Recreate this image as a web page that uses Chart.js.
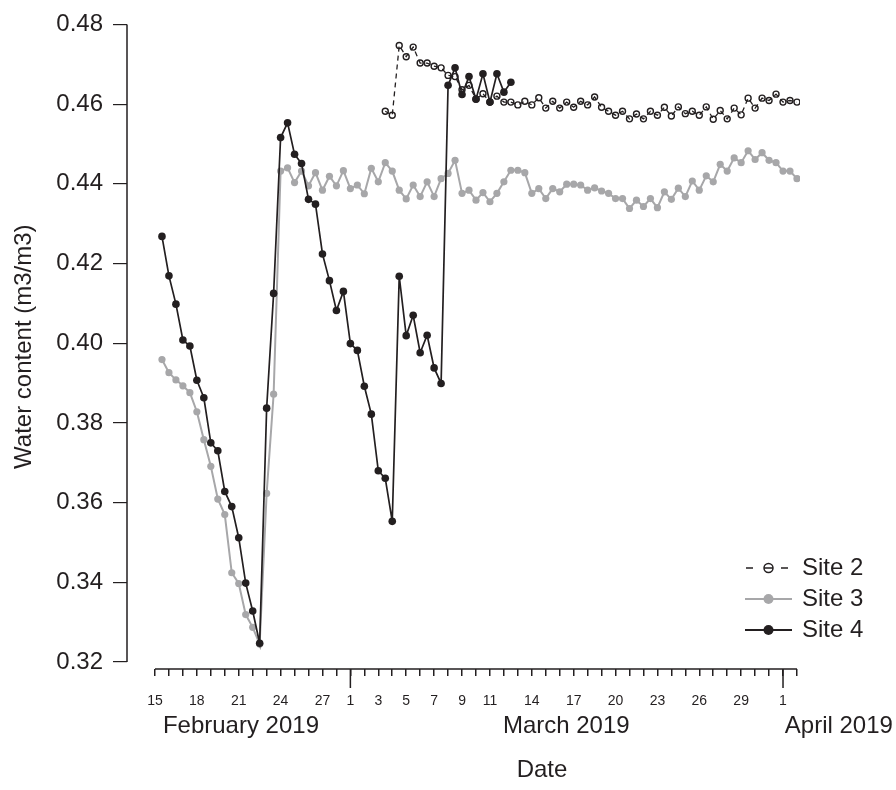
<!DOCTYPE html>
<html>
<head>
<meta charset="utf-8">
<script src="https://cdn.jsdelivr.net/npm/chart.js@4.4.1/dist/chart.umd.min.js"></script>
<style>
  html, body { margin: 0; padding: 0; background: #fff; }
</style>
</head>
<body>
<canvas id="chart" width="896" height="790"></canvas>
<script>
// day numbers counted from 1 February 2019 (Mar 1 = 29, Apr 1 = 60), one reading every 12 h
var days = [15.5, 16, 16.5, 17, 17.5, 18, 18.5, 19, 19.5, 20, 20.5, 21, 21.5, 22, 22.5, 23, 23.5,
  24, 24.5, 25, 25.5, 26, 26.5, 27, 27.5, 28, 28.5,
  29, 29.5, 30, 30.5, 31, 31.5, 32, 32.5, 33, 33.5, 34, 34.5, 35, 35.5,
  36, 36.5, 37, 37.5, 38, 38.5, 39, 39.5, 40, 40.5,
  41, 41.5, 42, 42.5, 43, 43.5, 44, 44.5, 45, 45.5,
  46, 46.5, 47, 47.5, 48, 48.5, 49, 49.5, 50, 50.5,
  51, 51.5, 52, 52.5, 53, 53.5, 54, 54.5, 55, 55.5,
  56, 56.5, 57, 57.5, 58, 58.5, 59, 59.5, 60, 60.5, 61];

var site3 = [0.3959, 0.3926, 0.3908, 0.3893, 0.3876, 0.3828, 0.3758, 0.3691, 0.3609, 0.3570,
  0.3424, 0.3397, 0.3319, 0.3287, 0.3245, 0.3623, 0.3872,
  0.4432, 0.4440, 0.4403, 0.4432, 0.4395, 0.4428, 0.4384, 0.4419, 0.4395, 0.4433,
  0.4388, 0.4397, 0.4375, 0.4439, 0.4405, 0.4453, 0.4432, 0.4384, 0.4362, 0.4397, 0.4368, 0.4405, 0.4368, 0.4413,
  0.4426, 0.4459, 0.4376, 0.4384, 0.4359, 0.4378, 0.4355, 0.4376, 0.4405, 0.4434,
  0.4434, 0.4428, 0.4376, 0.4388, 0.4363, 0.4388, 0.4380, 0.4399, 0.4399, 0.4397,
  0.4384, 0.4390, 0.4382, 0.4376, 0.4363, 0.4363, 0.4338, 0.4359, 0.4343, 0.4363,
  0.4340, 0.4380, 0.4361, 0.4389, 0.4368, 0.4407, 0.4384, 0.4420, 0.4405, 0.4449,
  0.4432, 0.4465, 0.4453, 0.4483, 0.4461, 0.4478, 0.4459, 0.4453, 0.4432, 0.4432,
  0.4413];

// site 4 starts with the first day and stops on 12 March
var site4 = [0.4268, 0.4169, 0.4098, 0.4008, 0.3993, 0.3907, 0.3863, 0.3750, 0.3730, 0.3628,
  0.3590, 0.3512, 0.3398, 0.3328, 0.3247, 0.3837, 0.4125,
  0.4516, 0.4553, 0.4474, 0.4451, 0.4361, 0.4349, 0.4224, 0.4157, 0.4082, 0.4130,
  0.3999, 0.3982, 0.3892, 0.3822, 0.3680, 0.3661, 0.3553, 0.4168, 0.4019, 0.4070, 0.3976, 0.4020, 0.3938, 0.3899,
  0.4647, 0.4691, 0.4624, 0.4669, 0.4612, 0.4676, 0.4605, 0.4676, 0.4630, 0.4655];

// site 2 starts on 3 March, 12:00
var site2From = 31.5;
var site2 = [0.4582, 0.4572, 0.4747, 0.4719, 0.4743, 0.4703, 0.4703, 0.4695, 0.4691,
  0.4672, 0.4669, 0.4636, 0.4647, 0.4613, 0.4626, 0.4605, 0.4620, 0.4605, 0.4605,
  0.4598, 0.4607, 0.4598, 0.4616, 0.4590, 0.4607, 0.4590, 0.4605, 0.4592, 0.4607,
  0.4598, 0.4618, 0.4592, 0.4582, 0.4572, 0.4582, 0.4563, 0.4575, 0.4563, 0.4582,
  0.4572, 0.4592, 0.4570, 0.4593, 0.4576, 0.4582, 0.4572, 0.4593, 0.4562, 0.4584,
  0.4563, 0.4590, 0.4573, 0.4615, 0.4590, 0.4615, 0.4609, 0.4625, 0.4605, 0.4609, 0.4605];

var yTicks = [0.32, 0.34, 0.36, 0.38, 0.40, 0.42, 0.44, 0.46, 0.48];
var yTickLabels = ['0.32', '0.34', '0.36', '0.38', '0.40', '0.42', '0.44', '0.46', '0.48'];
var labelDays = [15, 18, 21, 24, 27, 29, 31, 33, 35, 37, 39, 42, 45, 48, 51, 54, 57, 60];
var labelText = ['15', '18', '21', '24', '27', '1', '3', '5', '7', '9', '11', '14', '17', '20', '23', '26', '29', '1'];
var monthDays = [29, 60];
var monthNames = ['February 2019', 'March 2019', 'April 2019'];
var seriesNames = ['Site 2', 'Site 3', 'Site 4'];

var ink = '#231f20';
var grey = '#a7a7a9';
var font = "'Liberation Sans', Arial, sans-serif";

function pts(values, start) {
  var k = days.indexOf(start);
  return values.map(function(v, i) { return {x: days[k + i], y: v}; });
}

var tickDays = [];
for (var d = 15; d <= 61; d++) tickDays.push(d);

var extras = {
  id: 'extras',
  afterDraw: function(chart) {
    var c = chart.ctx;
    var xs = chart.scales.x, ys = chart.scales.y;
    var area = chart.chartArea;
    c.save();
    c.strokeStyle = ink;
    c.lineWidth = 1.5;
    // detached axis lines
    c.beginPath();
    c.moveTo(area.left, ys.getPixelForValue(0.48));
    c.lineTo(area.left, ys.getPixelForValue(0.32));
    c.moveTo(xs.getPixelForValue(15), area.bottom);
    c.lineTo(xs.getPixelForValue(61), area.bottom);
    monthDays.forEach(function(m) {
      var px = xs.getPixelForValue(m);
      c.moveTo(px, area.bottom);
      c.lineTo(px, area.bottom + 19);
    });
    c.stroke();

    c.fillStyle = ink;
    c.font = '24px ' + font;
    c.textAlign = 'center';
    c.textBaseline = 'middle';
    var monthAt = [21.16, 44.47, 64.0];
    monthNames.forEach(function(t, i) {
      c.fillText(t, xs.getPixelForValue(monthAt[i]), 726);
    });
    c.fillText('Date', 542, 770);

    // legend
    var rows = [568, 599, 630];
    var x0 = 745, x1 = 792, xm = 768.5;
    c.textAlign = 'left';
    seriesNames.forEach(function(t, i) {
      var y = rows[i];
      c.fillStyle = ink;
      c.fillText(t, 802, y);
      c.beginPath();
      if (i === 0) {
        c.strokeStyle = ink;
        c.lineWidth = 1.5;
        c.moveTo(746, y); c.lineTo(753, y);
        c.moveTo(764, y); c.lineTo(773, y);
        c.moveTo(781, y); c.lineTo(788, y);
        c.stroke();
        c.beginPath();
        c.arc(xm, y, 4.5, 0, Math.PI * 2);
        c.stroke();
      } else {
        var col = i === 1 ? grey : ink;
        c.strokeStyle = col;
        c.fillStyle = col;
        c.lineWidth = 2;
        c.moveTo(x0, y); c.lineTo(x1, y);
        c.stroke();
        c.beginPath();
        c.arc(xm, y, 5, 0, Math.PI * 2);
        c.fill();
      }
    });
    c.restore();
  }
};

new Chart(document.getElementById('chart'), {
  type: 'line',
  data: {
    datasets: [
      {
        label: seriesNames[2],
        data: pts(site4, 15.5),
        borderColor: ink,
        backgroundColor: ink,
        borderWidth: 1.7,
        pointRadius: 3.8,
        pointBorderWidth: 0,
        pointBackgroundColor: ink,
        tension: 0
      },
      {
        label: seriesNames[1],
        data: pts(site3, 15.5),
        borderColor: grey,
        backgroundColor: grey,
        borderWidth: 2,
        pointRadius: 3.6,
        pointBorderWidth: 0,
        pointBackgroundColor: grey,
        tension: 0
      },
      {
        label: seriesNames[0],
        data: pts(site2, site2From),
        borderColor: ink,
        borderWidth: 1.3,
        borderDash: [5, 4],
        pointRadius: 3,
        pointBorderWidth: 1.4,
        pointBorderColor: ink,
        pointBackgroundColor: 'rgba(0,0,0,0)',
        tension: 0
      }
    ]
  },
  options: {
    responsive: false,
    animation: false,
    layout: { padding: { top: 22, right: 96, bottom: 0, left: 0 } },
    plugins: {
      legend: { display: false },
      tooltip: { enabled: false }
    },
    scales: {
      x: {
        type: 'linear',
        min: 12.994,
        max: 61.217,
        afterBuildTicks: function(s) {
          s.ticks = tickDays.map(function(v) { return {value: v}; });
        },
        afterFit: function(s) { s.height = 121; },
        border: { display: false },
        grid: {
          drawOnChartArea: false,
          drawTicks: true,
          tickLength: 7,
          lineWidth: 1.5,
          color: ink
        },
        ticks: {
          autoSkip: false,
          maxRotation: 0,
          padding: 17,
          color: ink,
          font: { size: 14, family: font },
          callback: function(value) {
            var k = labelDays.indexOf(value);
            return k < 0 ? '' : labelText[k];
          }
        }
      },
      y: {
        type: 'linear',
        min: 0.31825,
        max: 0.48,
        afterBuildTicks: function(s) {
          s.ticks = yTicks.map(function(v) { return {value: v}; });
        },
        afterFit: function(s) { s.width = 127; },
        border: { display: false },
        grid: {
          drawOnChartArea: false,
          drawTicks: true,
          tickLength: 14,
          lineWidth: 1.2,
          color: ink
        },
        ticks: {
          padding: 10,
          color: ink,
          font: { size: 24, family: font },
          callback: function(value, index) { return yTickLabels[index]; }
        },
        title: {
          display: true,
          text: 'Water content (m3/m3)',
          color: ink,
          font: { size: 24, family: font },
          padding: { top: 10, bottom: 0 }
        }
      }
    }
  },
  plugins: [extras]
});
</script>
</body>
</html>
